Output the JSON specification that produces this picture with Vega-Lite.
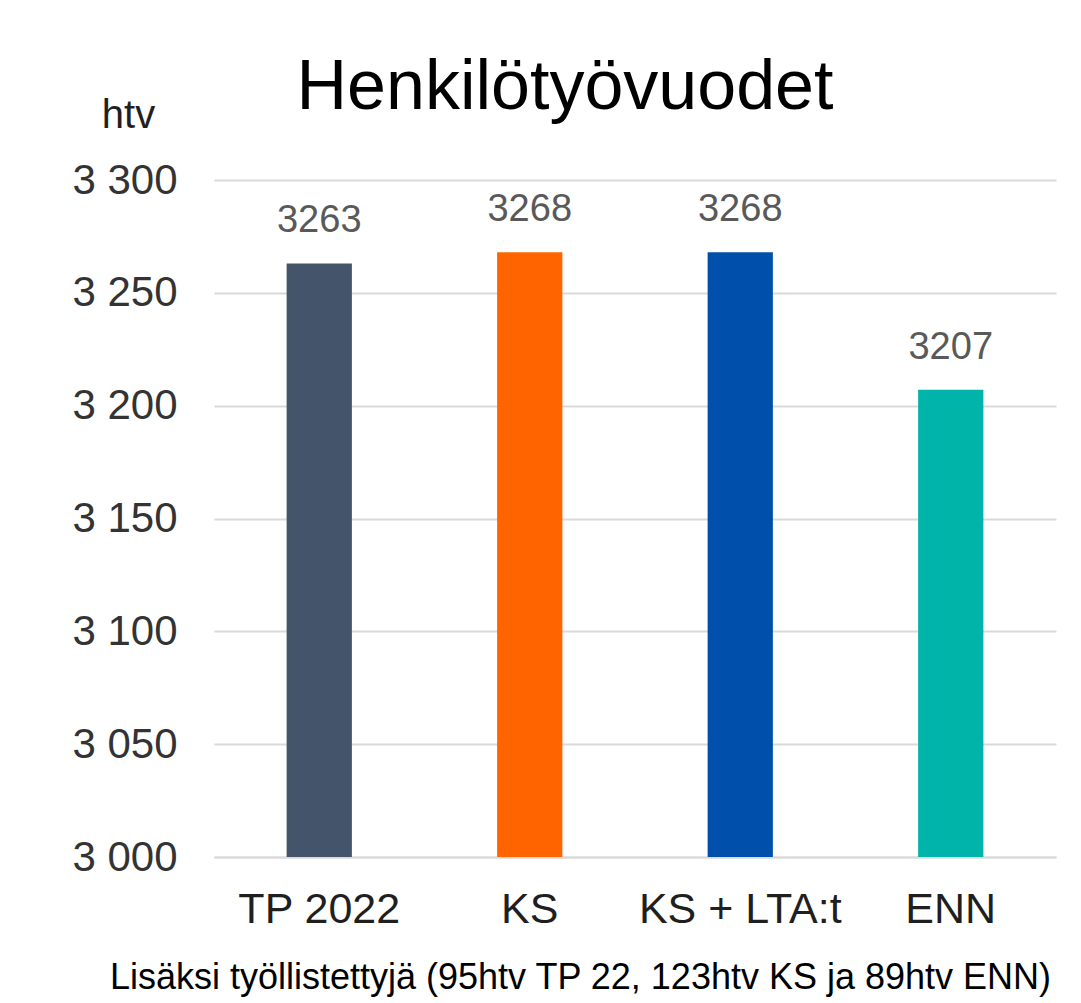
{
  "$schema": "https://vega.github.io/schema/vega-lite/v6.json",
  "width": 842,
  "height": 677,
  "autosize": {"type": "none"},
  "padding": {"left": 214, "top": 180, "right": 25, "bottom": 146},
  "background": "white",
  "config": {
    "font": "Liberation Sans",
    "view": {"stroke": null}
  },
  "title": {
    "text": "Henkilötyövuodet",
    "fontSize": 70,
    "fontWeight": "normal",
    "color": "#000000",
    "anchor": "middle",
    "dx": -70,
    "baseline": "alphabetic",
    "offset": 0,
    "dy": 84
  },
  "data": {
    "values": [
      {"kategoria": "TP 2022", "htv": 3263},
      {"kategoria": "KS", "htv": 3268},
      {"kategoria": "KS + LTA:t", "htv": 3268},
      {"kategoria": "ENN", "htv": 3207}
    ]
  },
  "encoding": {
    "x": {
      "field": "kategoria",
      "type": "nominal",
      "sort": null,
      "scale": {"paddingInner": 0.69, "paddingOuter": 0.345},
      "axis": {
        "title": "Lisäksi työllistettyjä (95htv TP 22, 123htv KS ja 89htv ENN)",
        "titleFontSize": 36,
        "titleFontWeight": "normal",
        "titleColor": "#000000",
        "titleX": 366,
        "titleY": 131,
        "titleAlign": "center",
        "titleBaseline": "alphabetic",
        "labelFontSize": 43,
        "labelColor": "#1f1f1f",
        "labelAngle": 0,
        "labelPadding": 31,
        "labelLimit": 0,
        "ticks": false,
        "domain": true,
        "domainColor": "#d9d9d9",
        "domainWidth": 2,
        "grid": false
      }
    },
    "y": {
      "field": "htv",
      "type": "quantitative",
      "scale": {"domain": [3000, 3300], "zero": false, "nice": false},
      "axis": {
        "title": "htv",
        "titleAngle": 0,
        "titleFontSize": 40,
        "titleFontWeight": "normal",
        "titleColor": "#1f1f1f",
        "titleX": -86,
        "titleY": -53,
        "titleAlign": "center",
        "titleBaseline": "alphabetic",
        "values": [3000, 3050, 3100, 3150, 3200, 3250, 3300],
        "labelExpr": "replace(format(datum.value, ','), ',', ' ')",
        "labelFontSize": 42,
        "labelColor": "#333333",
        "labelPadding": 37,
        "ticks": false,
        "domain": false,
        "grid": true,
        "gridColor": "#d9d9d9",
        "gridWidth": 2
      }
    }
  },
  "layer": [
    {
      "mark": {"type": "bar"},
      "encoding": {
        "y2": {"datum": 3000},
        "color": {
          "field": "kategoria",
          "type": "nominal",
          "sort": null,
          "scale": {
            "domain": ["TP 2022", "KS", "KS + LTA:t", "ENN"],
            "range": ["#44546a", "#ff6400", "#0050ab", "#00b4a9"]
          },
          "legend": null
        }
      }
    },
    {
      "mark": {"type": "text", "fontSize": 38, "color": "#595959", "baseline": "alphabetic", "dy": -31},
      "encoding": {
        "text": {"field": "htv", "type": "quantitative", "format": "d"}
      }
    }
  ]
}
